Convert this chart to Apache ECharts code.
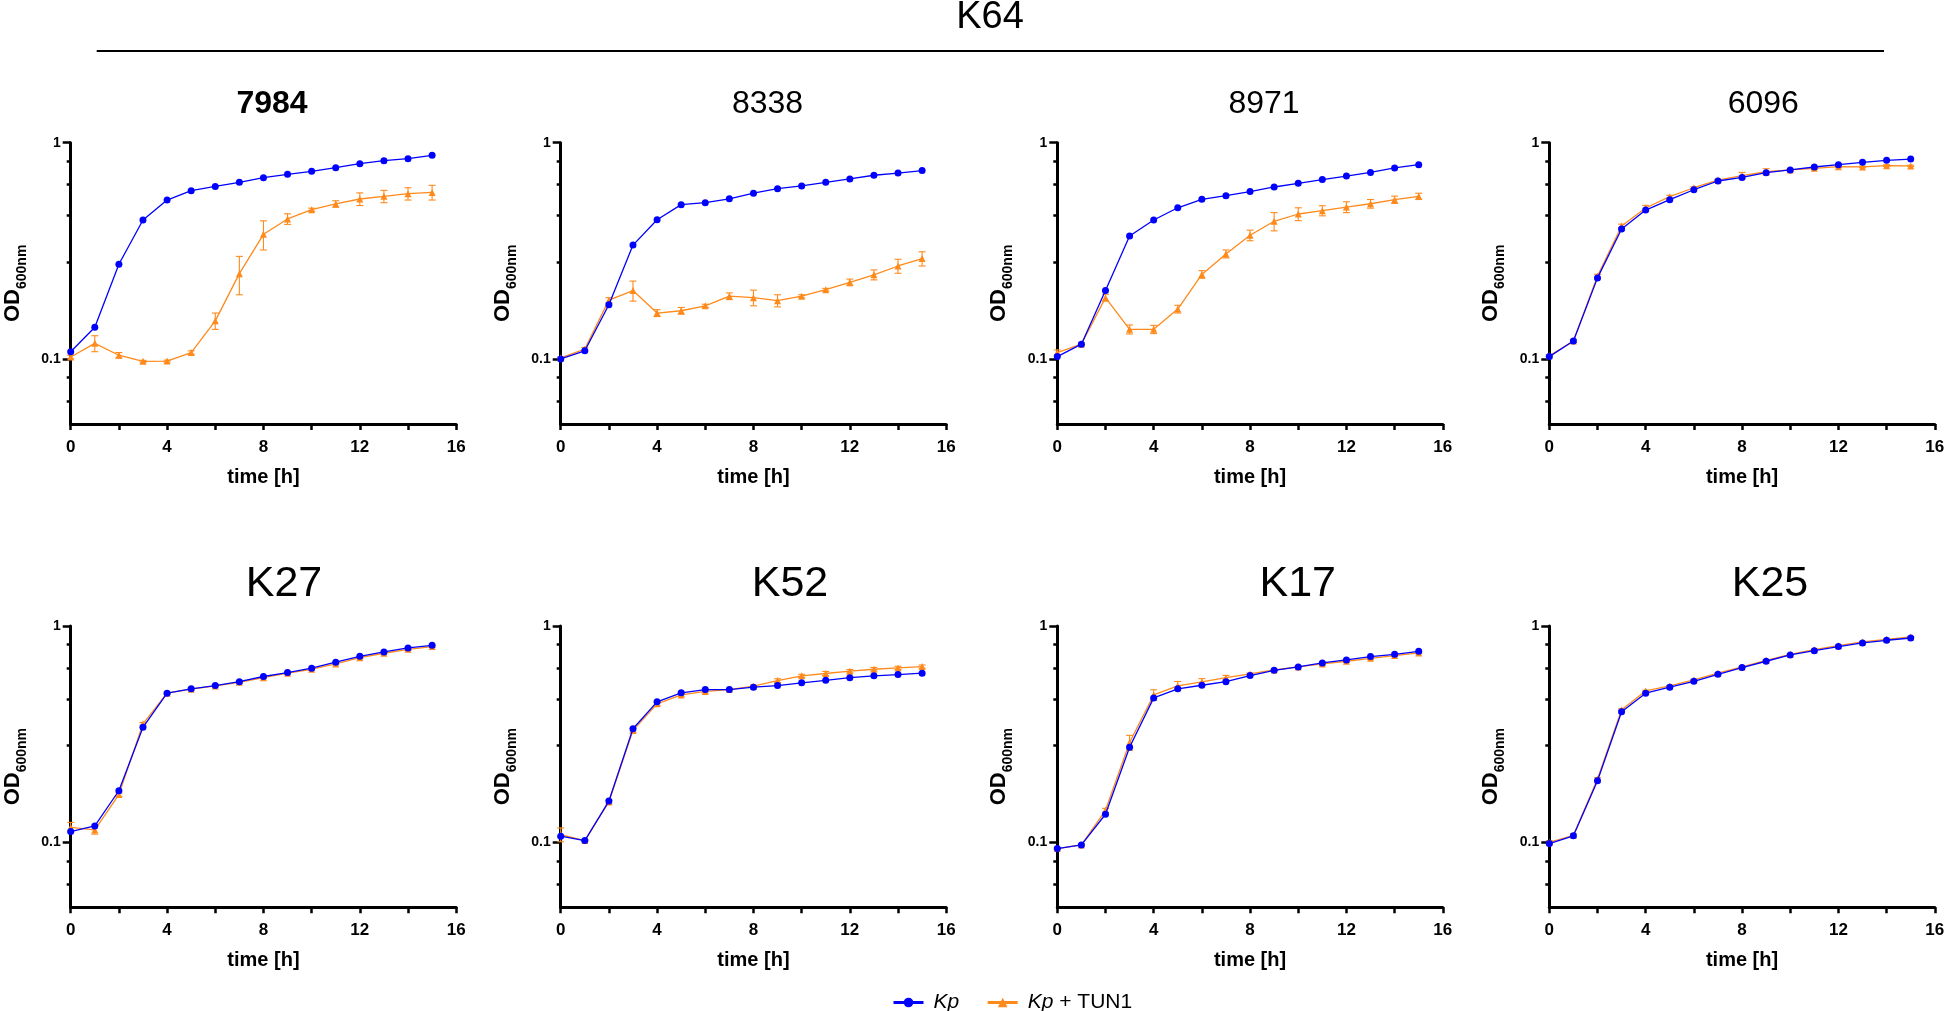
<!DOCTYPE html>
<html>
<head>
<meta charset="utf-8">
<title>Kp growth curves</title>
<script src="https://cdn.jsdelivr.net/npm/echarts@6/dist/echarts.min.js"></script>
<style>
  html, body { margin: 0; padding: 0; background: #fff; }
  #chart { width: 1946px; height: 1011px; }
</style>
</head>
<body>
<div id="chart"></div>
<script>
// time points (h)
const hours = [0, 1, 2, 3, 4, 5, 6, 7, 8, 9, 10, 11, 12, 13, 14, 15];

// OD600 values: Kp alone, Kp + TUN1 (mean) and its SD
const kp7984 = [0.108, 0.140, 0.274, 0.439, 0.543, 0.600, 0.628, 0.656, 0.689, 0.714, 0.737, 0.766, 0.800, 0.826, 0.844, 0.874];
const tun7984 = [0.102, 0.118, 0.104, 0.0975, 0.0977, 0.107, 0.150, 0.248, 0.377, 0.444, 0.490, 0.521, 0.549, 0.565, 0.581, 0.589];
const sd7984 = [0.002, 0.010, 0.003, 0.001, 0.001, 0.002, 0.013, 0.050, 0.058, 0.025, 0.008, 0.018, 0.037, 0.037, 0.038, 0.046];

const kp8338 = [0.100, 0.109, 0.178, 0.336, 0.440, 0.517, 0.528, 0.550, 0.584, 0.613, 0.631, 0.656, 0.680, 0.707, 0.724, 0.743];
const tun8338 = [0.101, 0.111, 0.187, 0.207, 0.163, 0.167, 0.176, 0.195, 0.192, 0.186, 0.195, 0.209, 0.226, 0.245, 0.269, 0.291];
const sd8338 = [0.001, 0.002, 0.005, 0.022, 0.006, 0.006, 0.003, 0.007, 0.016, 0.012, 0.003, 0.003, 0.008, 0.013, 0.020, 0.022];

const kp8971 = [0.1025, 0.117, 0.207, 0.370, 0.439, 0.500, 0.547, 0.569, 0.594, 0.624, 0.649, 0.675, 0.701, 0.729, 0.764, 0.791];
const tun8971 = [0.107, 0.117, 0.192, 0.137, 0.137, 0.170, 0.246, 0.306, 0.373, 0.433, 0.468, 0.485, 0.504, 0.522, 0.545, 0.565];
const sd8971 = [0.003, 0.002, 0.007, 0.0065, 0.006, 0.007, 0.010, 0.013, 0.021, 0.042, 0.032, 0.026, 0.029, 0.024, 0.021, 0.019];

const kp6096 = [0.1025, 0.121, 0.237, 0.399, 0.488, 0.545, 0.606, 0.665, 0.691, 0.727, 0.748, 0.772, 0.791, 0.811, 0.829, 0.840];
const tun6096 = [0.1035, 0.121, 0.242, 0.412, 0.499, 0.563, 0.619, 0.672, 0.704, 0.734, 0.748, 0.761, 0.775, 0.773, 0.783, 0.781];
const sd6096 = [0.001, 0.002, 0.004, 0.008, 0.014, 0.008, 0.006, 0.006, 0.025, 0.024, 0.008, 0.008, 0.008, 0.006, 0.008, 0.006];

const kpK27 = [0.112, 0.119, 0.173, 0.340, 0.489, 0.512, 0.530, 0.553, 0.584, 0.609, 0.638, 0.680, 0.724, 0.759, 0.792, 0.814];
const tunK27 = [0.117, 0.114, 0.166, 0.353, 0.489, 0.510, 0.528, 0.549, 0.577, 0.605, 0.631, 0.668, 0.714, 0.748, 0.780, 0.803];
const sdK27 = [0.0065, 0.005, 0.003, 0.005, 0.005, 0.005, 0.005, 0.006, 0.006, 0.006, 0.006, 0.007, 0.008, 0.007, 0.008, 0.007];

const kpK52 = [0.1066, 0.1018, 0.155, 0.335, 0.446, 0.491, 0.508, 0.508, 0.521, 0.530, 0.546, 0.561, 0.577, 0.588, 0.596, 0.605];
const tunK52 = [0.1085, 0.1018, 0.1535, 0.329, 0.4365, 0.480, 0.498, 0.508, 0.527, 0.559, 0.588, 0.603, 0.618, 0.631, 0.640, 0.649];
const sdK52 = [0.008, 0.001, 0.003, 0.006, 0.008, 0.007, 0.007, 0.004, 0.006, 0.011, 0.010, 0.013, 0.011, 0.012, 0.011, 0.011];

const kpK17 = [0.0935, 0.0972, 0.1347, 0.275, 0.465, 0.512, 0.532, 0.553, 0.590, 0.624, 0.647, 0.675, 0.697, 0.722, 0.740, 0.764];
const tunK17 = [0.0935, 0.0972, 0.1405, 0.289, 0.480, 0.528, 0.551, 0.577, 0.600, 0.626, 0.647, 0.668, 0.687, 0.709, 0.730, 0.751];
const sdK17 = [0.001, 0.001, 0.003, 0.023, 0.027, 0.026, 0.020, 0.014, 0.006, 0.005, 0.005, 0.008, 0.008, 0.008, 0.008, 0.007];

const kpK25 = [0.0986, 0.107, 0.1926, 0.401, 0.489, 0.521, 0.555, 0.598, 0.642, 0.687, 0.735, 0.769, 0.803, 0.835, 0.859, 0.880];
const tunK25 = [0.0997, 0.1077, 0.196, 0.410, 0.501, 0.528, 0.563, 0.605, 0.647, 0.694, 0.740, 0.777, 0.811, 0.844, 0.868, 0.890];
const sdK25 = [0.002, 0.002, 0.003, 0.004, 0.004, 0.003, 0.003, 0.004, 0.004, 0.004, 0.004, 0.004, 0.004, 0.004, 0.003, 0.003];

const panelNames = ['7984', '8338', '8971', '6096', 'K27', 'K52', 'K17', 'K25'];
const kpSeries = [kp7984, kp8338, kp8971, kp6096, kpK27, kpK52, kpK17, kpK25];
const tunSeries = [tun7984, tun8338, tun8971, tun6096, tunK27, tunK52, tunK17, tunK25];
const sdSeries = [sd7984, sd8338, sd8971, sd6096, sdK27, sdK52, sdK17, sdK25];

// axis ticks
const yMajorTicks = [0.1, 1];
const yMinorTicks = [0.064, 0.082, 0.28, 0.46, 0.64, 0.82];
const xLabelTicks = [0, 4, 8, 12, 16];

// layout (px)
const colLeft = [70.7, 560.7, 1057.3, 1549.3];
const rowTop = [142.7, 626];
const plotW = 385.5;
const plotH = 281.3;
const titleX = [272, 767.5, 1264, 1763.3, 284, 790, 1297.7, 1770];
const titleY = [104, 584.5];

const FONT = '"Liberation Sans", Arial, Helvetica, sans-serif';
const BLUE = '#0000ff';
const ORANGE = '#ff8a1c';

const chart = echarts.init(document.getElementById('chart'));

const grids = [];
const xAxes = [];
const yAxes = [];
const series = [];
const graphics = [];

panelNames.forEach((name, i) => {
  const col = i % 4;
  const row = Math.floor(i / 4);
  grids.push({
    left: colLeft[col], top: rowTop[row], width: plotW, height: plotH,
    outerBoundsMode: 'none', containLabel: false
  });

  xAxes.push({
    type: 'value', gridIndex: i, min: 0, max: 16, interval: 2,
    name: 'time [h]', nameLocation: 'middle', nameGap: 43,
    nameTextStyle: { fontFamily: FONT, fontSize: 20, fontWeight: 'bold', color: '#000' },
    axisLine: { lineStyle: { color: '#000', width: 3 } },
    axisTick: { length: 6, lineStyle: { color: '#000', width: 2.5 } },
    axisLabel: {
      fontFamily: FONT, fontSize: 17, fontWeight: 'bold', color: '#000', margin: 15,
      formatter: (v) => (xLabelTicks.includes(v) ? String(v) : '')
    },
    splitLine: { show: false }
  });

  // minor ticks + axis line
  yAxes.push({
    type: 'log', logBase: 10, gridIndex: i, min: 0.05, max: 1, position: 'left',
    axisLine: { show: true, lineStyle: { color: '#000', width: 3 } },
    axisTick: { length: 4, customValues: yMinorTicks, lineStyle: { color: '#000', width: 2.5 } },
    axisLabel: { show: false },
    splitLine: { show: false }
  });
  // major ticks, labels and name
  yAxes.push({
    type: 'log', logBase: 10, gridIndex: i, min: 0.05, max: 1, position: 'left',
    name: '{a|OD}{b|600nm}', nameLocation: 'middle', nameRotate: 90, nameGap: 45,
    nameTextStyle: {
      rich: {
        a: { fontFamily: FONT, fontSize: 22, fontWeight: 'bold', color: '#000', lineHeight: 24, verticalAlign: 'top' },
        b: { fontFamily: FONT, fontSize: 14, fontWeight: 'bold', color: '#000', lineHeight: 14, verticalAlign: 'top', padding: [13, 0, 0, 0] }
      }
    },
    axisLine: { show: false },
    axisTick: { length: 8, customValues: yMajorTicks, lineStyle: { color: '#000', width: 2.5 } },
    axisLabel: {
      customValues: yMajorTicks, fontFamily: FONT, fontSize: 14, fontWeight: 'bold', color: '#000', margin: 10
    },
    splitLine: { show: false }
  });

  const tun = tunSeries[i];
  const sd = sdSeries[i];

  series.push({
    type: 'custom', name: 'sd', xAxisIndex: i, yAxisIndex: 2 * i,
    data: hours.map((t, k) => [t, tun[k] - sd[k], tun[k] + sd[k]]),
    encode: { x: 0, y: [1, 2] },
    z: 2,
    renderItem: (params, api) => {
      const lo = api.coord([api.value(0), api.value(1)]);
      const hi = api.coord([api.value(0), api.value(2)]);
      const w = 3.5;
      const st = { stroke: ORANGE, lineWidth: 1.1 };
      return {
        type: 'group',
        children: [
          { type: 'line', shape: { x1: lo[0], y1: lo[1], x2: hi[0], y2: hi[1] }, style: st },
          { type: 'line', shape: { x1: lo[0] - w, y1: lo[1], x2: lo[0] + w, y2: lo[1] }, style: st },
          { type: 'line', shape: { x1: hi[0] - w, y1: hi[1], x2: hi[0] + w, y2: hi[1] }, style: st }
        ]
      };
    }
  });

  series.push({
    type: 'line', name: 'Kp + TUN1', xAxisIndex: i, yAxisIndex: 2 * i,
    data: hours.map((t, k) => [t, tun[k]]),
    symbol: 'triangle', symbolSize: 7, z: 3,
    itemStyle: { color: ORANGE },
    lineStyle: { color: ORANGE, width: 1.3 }
  });

  series.push({
    type: 'line', name: 'Kp', xAxisIndex: i, yAxisIndex: 2 * i,
    data: hours.map((t, k) => [t, kpSeries[i][k]]),
    symbol: 'circle', symbolSize: 7, z: 4,
    itemStyle: { color: BLUE },
    lineStyle: { color: BLUE, width: 1.3 }
  });

  graphics.push({
    type: 'text', x: titleX[i], y: titleY[row],
    style: {
      text: name, fill: '#000', fontFamily: FONT,
      fontSize: row === 0 ? 32 : 43,
      fontWeight: i === 0 ? 'bold' : 'normal',
      textAlign: 'center', textVerticalAlign: 'middle'
    }
  });
});

graphics.push({
  type: 'text', x: 990, y: 18,
  style: {
    text: 'K64', fill: '#000', fontFamily: FONT, fontSize: 38,
    textAlign: 'center', textVerticalAlign: 'middle'
  }
});
graphics.push({
  type: 'line',
  shape: { x1: 96.7, y1: 51, x2: 1884, y2: 51 },
  style: { stroke: '#000', lineWidth: 2.2 }
});

chart.setOption({
  animation: false,
  backgroundColor: '#fff',
  textStyle: { fontFamily: FONT },
  grid: grids,
  xAxis: xAxes,
  yAxis: yAxes,
  series: series,
  graphic: graphics,
  legend: {
    data: ['Kp', 'Kp + TUN1'],
    left: 887, top: 987,
    itemWidth: 30, itemHeight: 12, itemGap: 27,
    lineStyle: { width: 3 },
    formatter: (n) => n.replace('Kp', '{i|Kp}'),
    textStyle: {
      fontFamily: FONT, fontSize: 21, color: '#000', padding: [0, 0, 0, 5],
      rich: { i: { fontFamily: FONT, fontSize: 21, fontStyle: 'italic', color: '#000' } }
    }
  }
});
</script>
</body>
</html>
